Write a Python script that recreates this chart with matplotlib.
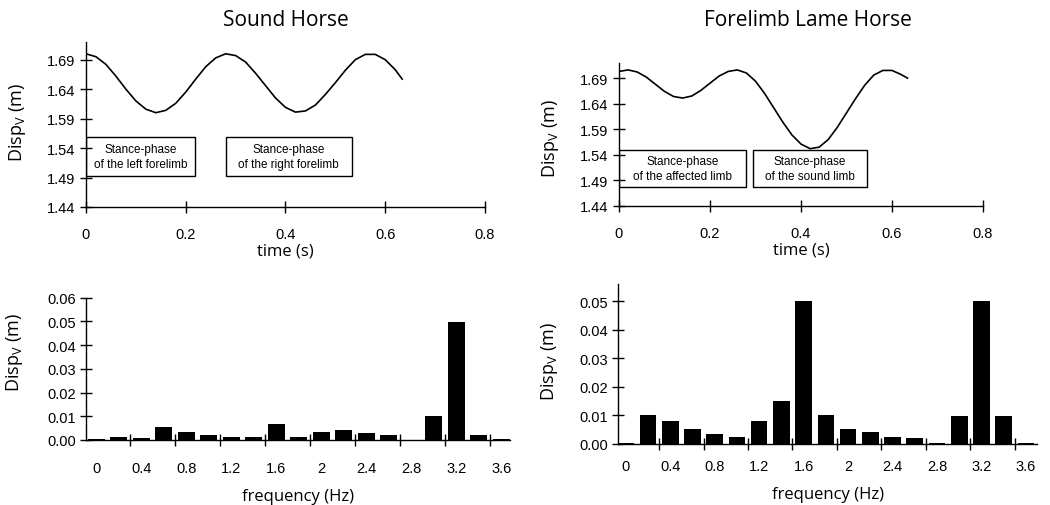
import numpy as np
import matplotlib
matplotlib.use('Agg')
import matplotlib.pyplot as plt
from matplotlib.ticker import FixedLocator, NullFormatter

# --- data ---
time = [0.00, 0.02, 0.04, 0.06, 0.08, 0.10, 0.12, 0.14, 0.16, 0.18, 0.20,
        0.22, 0.24, 0.26, 0.28, 0.30, 0.32, 0.34, 0.36, 0.38, 0.40, 0.42,
        0.44, 0.46, 0.48, 0.50, 0.52, 0.54, 0.56, 0.58, 0.60, 0.62, 0.634]

disp_sound = [1.700, 1.695, 1.682, 1.662, 1.640, 1.620, 1.606, 1.600, 1.604,
              1.616, 1.635, 1.657, 1.678, 1.693, 1.700, 1.697, 1.686, 1.667,
              1.646, 1.625, 1.609, 1.601, 1.603, 1.613, 1.631, 1.651, 1.672,
              1.690, 1.699, 1.699, 1.690, 1.673, 1.657]

disp_lame = [1.703, 1.706, 1.702, 1.692, 1.678, 1.664, 1.654, 1.651, 1.655,
             1.666, 1.680, 1.694, 1.703, 1.706, 1.700, 1.684, 1.660, 1.632,
             1.604, 1.579, 1.561, 1.552, 1.555, 1.570, 1.594, 1.622, 1.650,
             1.676, 1.696, 1.705, 1.705, 1.697, 1.690]

freq = [0.0, 0.2, 0.4, 0.6, 0.8, 1.0, 1.2, 1.4, 1.6, 1.8, 2.0,
        2.2, 2.4, 2.6, 2.8, 3.0, 3.2, 3.4, 3.6]

amp_sound = [0.0004, 0.0012, 0.0010, 0.0054, 0.0035, 0.0023, 0.0011, 0.0011,
             0.0069, 0.0013, 0.0032, 0.0042, 0.0028, 0.0022, 0.0002, 0.0100,
             0.0498, 0.0022, 0.0003]

amp_lame = [0.0005, 0.0102, 0.0081, 0.0052, 0.0034, 0.0023, 0.0081, 0.0151,
            0.0500, 0.0102, 0.0052, 0.0041, 0.0026, 0.0020, 0.0002, 0.0099,
            0.0500, 0.0099, 0.0002]

disp_ticks = [1.44, 1.49, 1.54, 1.59, 1.64, 1.69]
time_ticks = [0, 0.2, 0.4, 0.6, 0.8]
freq_labels = [0, 0.4, 0.8, 1.2, 1.6, 2, 2.4, 2.8, 3.2, 3.6]

boxes_sound = ['Stance-phase\nof the left forelimb', 'Stance-phase\nof the right forelimb']
boxes_lame = ['Stance-phase\nof the affected limb', 'Stance-phase\nof the sound limb']

tick_font = 'Liberation Sans'
label_font = 'Open Sans'

fig = plt.figure(figsize=(10.5, 5.06), dpi=100)


def style_axes(ax):
    for s in ['top', 'right']:
        ax.spines[s].set_visible(False)
    for s in ['left', 'bottom']:
        ax.spines[s].set_linewidth(1.0)
    for lab in ax.get_xticklabels() + ax.get_yticklabels():
        lab.set_fontfamily(tick_font)
        lab.set_fontsize(10.5)


def time_panel(rect, y, boxes, box_pos, title, title_x):
    ax = fig.add_axes(rect)
    ax.plot(time, y, color='black', lw=1.2)
    ax.set_xlim(0, 0.8)
    ax.set_ylim(1.44, 1.72)
    ax.set_yticks(disp_ticks)
    ax.set_yticklabels(['%.2f' % v for v in disp_ticks])
    ax.set_xticks(time_ticks)
    ax.set_xticklabels(['0', '0.2', '0.4', '0.6', '0.8'])
    ax.tick_params(axis='both', direction='inout', length=9, width=1)
    ax.tick_params(axis='x', pad=10)
    ax.tick_params(axis='y', pad=3)
    style_axes(ax)
    for txt, (x0, x1, y0, y1) in zip(boxes, box_pos):
        ax.add_patch(plt.Rectangle((x0, y0), x1 - x0, y1 - y0, fill=False,
                                   ec='black', lw=1.0))
        ax.text((x0 + x1) / 2, (y0 + y1) / 2, txt, ha='center', va='center',
                fontsize=8.5, family=tick_font, linespacing=1.3)
    ax.set_xlabel('time (s)', family=label_font, fontsize=12)
    ax.set_ylabel('Disp$_\\mathregular{V}$ (m)', family=label_font, fontsize=13)
    fig.text(title_x, 0.96, title, ha='center', va='center',
             family=label_font, fontsize=15)
    return ax


def freq_panel(rect, amps, xlim, ylim, yticks, pad):
    ax = fig.add_axes(rect)
    ax.bar(freq, amps, width=0.15, color='black')
    ax.set_xlim(*xlim)
    ax.set_ylim(*ylim)
    ax.set_yticks(yticks)
    ax.set_yticklabels(['%.2f' % v for v in yticks])
    ax.set_xticks(freq_labels)
    ax.set_xticklabels([str(v) for v in freq_labels])
    ax.xaxis.set_minor_locator(FixedLocator(np.arange(-0.1, 3.8, 0.4)))
    ax.xaxis.set_minor_formatter(NullFormatter())
    ax.tick_params(axis='x', which='major', length=0, pad=pad)
    ax.tick_params(axis='x', which='minor', direction='inout', length=8, width=1)
    ax.tick_params(axis='y', direction='inout', length=8, width=1, pad=3)
    style_axes(ax)
    ax.set_xlabel('frequency (Hz)', family=label_font, fontsize=12)
    ax.set_ylabel('Disp$_\\mathregular{V}$ (m)', family=label_font, fontsize=13)
    return ax


ax1 = time_panel([0.0819, 0.589, 0.38, 0.326], disp_sound, boxes_sound,
                 [(0.0, 0.218, 1.493, 1.559), (0.28, 0.533, 1.493, 1.559)],
                 'Sound Horse', 0.272)
ax1.xaxis.set_label_coords(0.5, -0.215)
ax1.yaxis.set_label_coords(-0.145, 0.515)

ax2 = time_panel([0.5895, 0.591, 0.3467, 0.283], disp_lame, boxes_lame,
                 [(0.0, 0.28, 1.477, 1.550), (0.295, 0.545, 1.477, 1.550)],
                 'Forelimb Lame Horse', 0.769)
ax2.xaxis.set_label_coords(0.5, -0.25)
ax2.yaxis.set_label_coords(-0.16, 0.48)

ax3 = freq_panel([0.0819, 0.1285, 0.404, 0.281], amp_sound, (-0.09, 3.68),
                 (0, 0.06), [0, 0.01, 0.02, 0.03, 0.04, 0.05, 0.06], 15)
ax3.xaxis.set_label_coords(0.5, -0.34)
ax3.yaxis.set_label_coords(-0.143, 0.62)

ax4 = freq_panel([0.5886, 0.1206, 0.399, 0.316], amp_lame, (-0.07, 3.7),
                 (0, 0.056), [0, 0.01, 0.02, 0.03, 0.04, 0.05], 11)
ax4.xaxis.set_label_coords(0.5, -0.26)
ax4.yaxis.set_label_coords(-0.138, 0.52)

fig.savefig('out.png', dpi=100)
